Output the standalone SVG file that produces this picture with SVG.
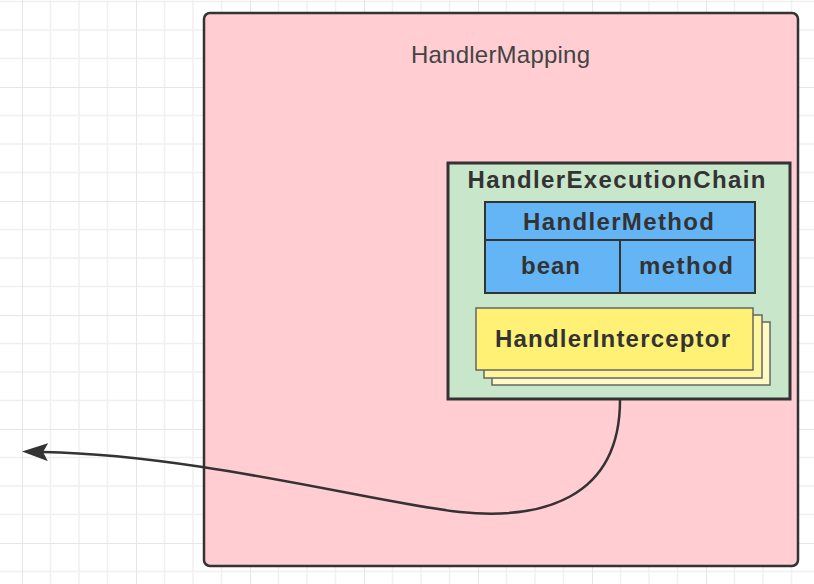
<svg xmlns="http://www.w3.org/2000/svg" width="814" height="584" viewBox="0 0 814 584">
<defs>
<pattern id="grid" patternUnits="userSpaceOnUse" x="22" y="-27" width="114" height="114">
<path d="M28.5 0V114M57 0V114M85.5 0V114M0 28.5H114M0 57H114M0 85.5H114" stroke="#f0f0f0" stroke-width="1.5" fill="none"/>
<path d="M0 0V114M0 0H114" stroke="#e6e6e6" stroke-width="2" fill="none"/>
</pattern>
<marker id="arrow" markerUnits="userSpaceOnUse" viewBox="0 0 26 18" refX="5" refY="9" markerWidth="26" markerHeight="18" orient="auto">
<path d="M26 9L0 0L5 9L0 18Z" fill="#333"/>
</marker>
</defs>
<style>
.t{font-family:"Liberation Sans",Arial,sans-serif;fill:#333;text-anchor:middle}
.b{font-weight:bold;font-size:24px}
.box{stroke:#333}
</style>
<rect width="814" height="584" fill="#fff"/>
<rect width="814" height="584" fill="url(#grid)"/>
<g id="handlerMapping">
<rect class="box" x="204" y="13" width="594" height="553" rx="6" fill="#ffcdd2" stroke-width="2.5"/>
<text class="t" x="500.5" y="63" font-size="24" textLength="179" style="fill:#444">HandlerMapping</text>
</g>
<g id="handlerExecutionChain">
<rect class="box" x="448" y="163" width="342" height="236" fill="#c8e6c9" stroke-width="3"/>
<text class="t b" x="616.5" y="187.5" textLength="298">HandlerExecutionChain</text>
</g>
<g id="handlerMethod">
<rect class="box" x="485" y="202" width="270" height="91" fill="#64b5f6" stroke-width="2"/>
<path class="box" d="M485 240H755M620 240V293" stroke-width="2" fill="none"/>
<text class="t b" x="618.5" y="230" textLength="191">HandlerMethod</text>
<text class="t b" x="550.5" y="274" textLength="59">bean</text>
<text class="t b" x="686" y="274" textLength="94">method</text>
</g>
<g id="handlerInterceptor">
<rect x="492" y="322" width="278" height="63" fill="#fff9c4" stroke="#666" stroke-width="1.5"/>
<rect x="484" y="315" width="278" height="63" fill="#fff59d" stroke="#666" stroke-width="1.5"/>
<rect x="476" y="308" width="277" height="62" fill="#fff176" stroke="#666" stroke-width="1.5"/>
<text class="t b" x="612.5" y="347" textLength="235">HandlerInterceptor</text>
</g>
<g id="connectors">
<path d="M620 400C620 500 540 520 460 512C380 504 200 455 43 452" fill="none" stroke="#333" stroke-width="2.5" marker-end="url(#arrow)"/>
</g>
</svg>
